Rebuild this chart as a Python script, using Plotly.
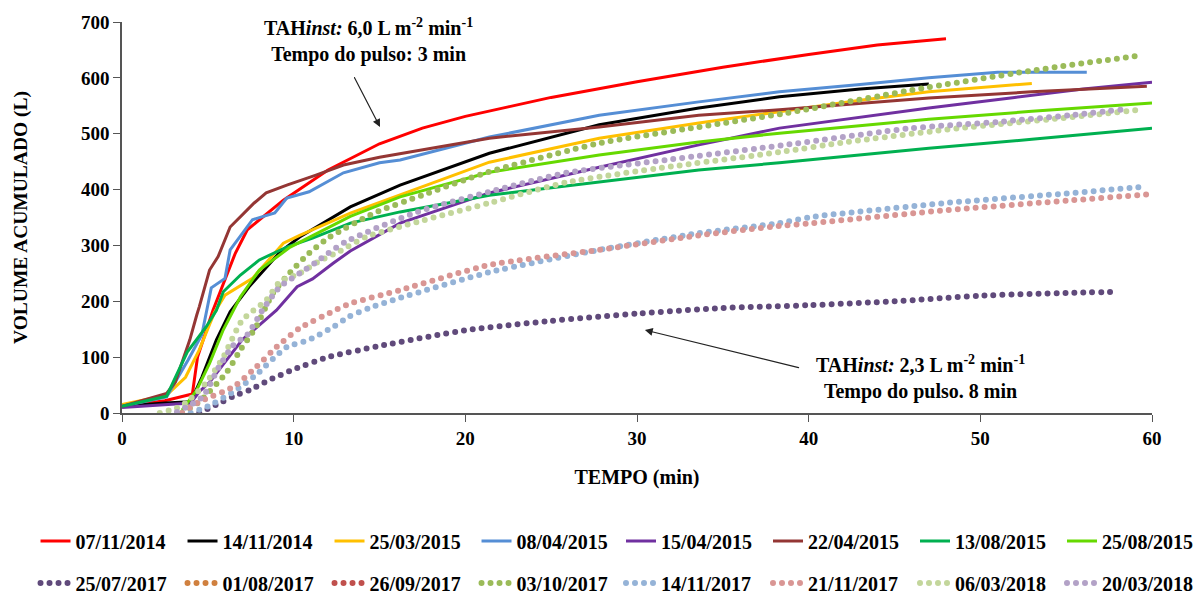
import plotly.graph_objects as go

# ---------------- data ----------------
names_solid = ["07/11/2014", "14/11/2014", "25/03/2015", "08/04/2015",
               "15/04/2015", "22/04/2015", "13/08/2015", "25/08/2015"]
colors_solid = ["#FF0000", "#000000", "#FFC000", "#558ED5",
                "#7030A0", "#943634", "#00B050", "#66D900"]

t_0711_2014 = [0, 2.5, 4.1, 4.4, 5.3, 6.6, 7.3, 9.4, 12, 15, 17.5, 20, 22.5, 25, 30, 35, 40, 44, 48]
v_0711_2014 = [12, 22, 34, 100, 184, 286, 328, 381, 435, 482, 510, 531, 548, 565, 593, 619, 642, 659, 670]

t_1411_2014 = [0, 2.5, 4, 4.65, 5.5, 6.3, 7.4, 9.2, 10.35, 13.3, 16.2, 21.4, 27.8, 33.6, 38.3, 43, 47]
v_1411_2014 = [12, 18, 20, 64, 131, 181, 226, 288, 315, 369, 408, 465, 516, 546, 566, 580, 589]

t_2503_2015 = [0, 2.6, 3.7, 4.5, 5.4, 6, 7.6, 9.4, 10.35, 13.3, 21.4, 27.8, 33.6, 38.3, 43, 47, 53]
v_2503_2015 = [15, 32, 64, 113, 181, 211, 241, 304, 318, 358, 449, 492, 519, 539, 560, 575, 590]

t_0804_2015 = [0, 2.6, 3.85, 4.65, 5.2, 6, 6.3, 7.6, 8.9, 9.6, 10.9, 12.9, 15, 16.2, 21.4, 27.8, 33.6, 38.3, 43, 47, 51, 56.2]
v_0804_2015 = [12, 29, 95, 140, 224, 241, 292, 346, 358, 385, 396, 430, 448, 453, 494, 533, 557, 575, 588, 600, 610, 610]

t_1504_2015 = [0, 2.5, 4, 4.5, 5.1, 6.1, 7.0, 7.8, 9.0, 10.2, 11.1, 12.3, 13.3, 16.2, 21.4, 27.8, 33.6, 38.3, 43, 47, 52, 56, 60]
v_1504_2015 = [10, 15, 18, 38, 55, 95, 131, 152, 184, 226, 240, 268, 290, 340, 394, 440, 480, 510, 530, 546, 565, 580, 592]

t_2204_2015 = [0, 2.6, 3.1, 3.95, 4.35, 4.5, 5.1, 5.6, 6.3, 7.0, 7.7, 8.4, 9.6, 11.3, 12.9, 15, 21.4, 27.8, 33.6, 38.3, 43, 47, 53, 59.7]
v_2204_2015 = [12, 35, 55, 131, 175, 190, 256, 280, 333, 354, 376, 394, 408, 426, 444, 458, 492, 512, 533, 543, 555, 564, 575, 585]

t_1308_2015 = [0, 2.6, 3.8, 4.9, 5.5, 5.9, 6.9, 8.0, 9.6, 11.1, 13.3, 16.2, 21.4, 27.8, 33.6, 38.3, 43, 47, 53, 60]
v_1308_2015 = [12, 30, 109, 154, 184, 217, 247, 274, 297, 313, 340, 360, 390, 413, 435, 448, 462, 474, 490, 510]

t_2508_2015 = [3.5, 4.35, 5.1, 5.9, 6.9, 8.0, 9.8, 11.1, 13.3, 16.2, 21.4, 27.8, 33.6, 38.3, 43, 47, 53, 60]
v_2508_2015 = [5, 41, 89, 149, 208, 256, 297, 317, 352, 387, 431, 462, 485, 501, 515, 526, 540, 555]

names_dot = ["25/07/2017", "01/08/2017", "26/09/2017", "03/10/2017",
             "14/11/2017", "21/11/2017", "06/03/2018", "20/03/2018"]
colors_dot = ["#604A7B", "#D0803F", "#C0504D", "#9BBB59",
              "#95B3D7", "#D99694", "#C3D69B", "#B3A2C7"]

t_2507_2017 = [4.5, 5.5, 6.5, 7.5, 8.5, 10, 12, 15, 20, 25, 30, 35, 40, 45, 50, 55, 58]
v_2507_2017 = [0, 15, 30, 42, 58, 78, 100, 120, 148, 165, 178, 188, 193, 200, 210, 215, 217]

t_0108_2017 = []
v_0108_2017 = []

t_2609_2017 = []
v_2609_2017 = []

t_0310_2017 = [3.5, 4.5, 6.1, 6.9, 7.8, 8.8, 9.8, 10.9, 12.1, 14.7, 17.5, 21.2, 27.8, 33.6, 38.7, 46, 52.8, 59.5]
v_0310_2017 = [0, 20, 73, 113, 154, 215, 252, 286, 315, 358, 390, 430, 483, 512, 537, 578, 612, 641]

t_1411_2017 = [4, 5, 6.5, 7.8, 9.6, 10.9, 12.3, 13.2, 14.4, 16.2, 21.4, 27.8, 33.6, 38.3, 40.2, 48, 55, 59.5]
v_1411_2017 = [0, 12, 38, 68, 118, 131, 154, 172, 188, 206, 252, 292, 322, 340, 351, 376, 393, 405]

t_2111_2017 = [3.5, 4.5, 6.5, 7.8, 9.0, 10.35, 12.3, 13.2, 16.2, 21.4, 27.8, 33.6, 38.3, 40.2, 48, 55, 60]
v_2111_2017 = [0, 20, 47, 82, 118, 152, 182, 195, 220, 265, 292, 318, 335, 340, 363, 380, 392]

t_0603_2018 = [2.2, 3.2, 3.8, 4.9, 5.9, 7.0, 8.4, 9.2, 10.35, 11.5, 12.7, 14.2, 17.2, 21.4, 25.9, 31.7, 38.3, 42.2, 48.8, 54.8, 59.3]
v_0603_2018 = [0, 9, 20, 54, 100, 166, 202, 235, 250, 272, 290, 315, 342, 376, 413, 440, 467, 485, 510, 528, 543]

t_2003_2018 = [3.2, 4.7, 5.6, 6.5, 7.3, 8.2, 9.2, 10.35, 11.3, 13, 17.2, 21.4, 25.9, 31.7, 38.9, 46, 51, 55.2, 58.2]
v_2003_2018 = [2, 29, 80, 122, 140, 185, 226, 250, 270, 306, 360, 396, 430, 453, 481, 510, 521, 533, 543]

solid_t = [t_0711_2014, t_1411_2014, t_2503_2015, t_0804_2015, t_1504_2015, t_2204_2015, t_1308_2015, t_2508_2015]
solid_v = [v_0711_2014, v_1411_2014, v_2503_2015, v_0804_2015, v_1504_2015, v_2204_2015, v_1308_2015, v_2508_2015]
dot_t = [t_2507_2017, t_0108_2017, t_2609_2017, t_0310_2017, t_1411_2017, t_2111_2017, t_0603_2018, t_2003_2018]
dot_v = [v_2507_2017, v_0108_2017, v_2609_2017, v_0310_2017, v_1411_2017, v_2111_2017, v_0603_2018, v_2003_2018]

x_ticks = [0, 10, 20, 30, 40, 50, 60]
y_ticks = [0, 100, 200, 300, 400, 500, 600, 700]

FONT = "Liberation Serif"

# legend slots: row 1 -> legend (left half) / legend2 (right half); row 2 -> legend3 / legend4
solid_legends = ["legend"] * 4 + ["legend2"] * 4
dot_legends = ["legend3"] * 4 + ["legend4"] * 4

# ---------------- figure ----------------
fig = go.Figure()

for name, col, tt, vv, lg in zip(names_solid, colors_solid, solid_t, solid_v, solid_legends):
    fig.add_trace(go.Scatter(x=tt, y=vv, mode="lines", name=name,
                             line=dict(color=col, width=3), legend=lg))

for name, col, tt, vv, lg in zip(names_dot, colors_dot, dot_t, dot_v, dot_legends):
    fig.add_trace(go.Scatter(x=tt if tt else [None], y=vv if vv else [None],
                             mode="lines", name=name,
                             line=dict(color=col, width=6, dash="0px,9px", shape="spline", smoothing=0.6),
                             legend=lg))

axis_font = dict(family=FONT, size=19, color="black", weight="bold")

fig.update_xaxes(range=[0, 60], tickvals=x_ticks, ticks="outside", ticklen=7, tickwidth=1.3,
                 tickcolor="#555", showline=True, linecolor="#555", linewidth=1.5,
                 showgrid=False, zeroline=False, tickfont=axis_font,
                 title=dict(text="TEMPO (min)", font=dict(family=FONT, size=20, color="black", weight="bold"),
                            standoff=22))
fig.update_yaxes(range=[0, 700], tickvals=y_ticks, ticks="outside", ticklen=7, tickwidth=1.3,
                 tickcolor="#555", showline=True, linecolor="#555", linewidth=1.5,
                 showgrid=False, zeroline=False, tickfont=axis_font,
                 title=dict(text="VOLUME ACUMULADO (L)", font=dict(family=FONT, size=19.5, color="black", weight="bold"),
                            standoff=48))

legend_common = dict(orientation="h", font=dict(family=FONT, size=20, color="black", weight="bold"),
                     entrywidth=102, entrywidthmode="pixels", xanchor="left", yanchor="middle",
                     xref="container", yref="container",
                     bgcolor="rgba(0,0,0,0)", itemwidth=30, traceorder="normal")

x_left = 0.0296
x_right = 0.5175
y_row1 = 1 - 541 / 597
y_row2 = 1 - 583 / 597

fig.update_layout(
    width=1200, height=597,
    margin=dict(l=122, r=48, t=22, b=184, autoexpand=False),
    plot_bgcolor="white", paper_bgcolor="white",
    legend=dict(x=x_left, y=y_row1, **legend_common),
    legend2=dict(x=x_right, y=y_row1, **legend_common),
    legend3=dict(x=x_left, y=y_row2, **legend_common),
    legend4=dict(x=x_right, y=y_row2, **legend_common),
)

# annotations
fig.add_annotation(x=15.03, y=512, ax=13.5, ay=603, xref="x", yref="y", axref="x", ayref="y",
                   text="", showarrow=True, arrowhead=2, arrowsize=1.3, arrowwidth=1.2, arrowcolor="#222")
fig.add_annotation(x=30.46, y=148.6, ax=39.5, ay=80.6, xref="x", yref="y", axref="x", ayref="y",
                   text="", showarrow=True, arrowhead=2, arrowsize=1.3, arrowwidth=1.2, arrowcolor="#222")
fig.add_annotation(x=14.33, y=666, xref="x", yref="y", showarrow=False,
                   text="<b>TAH<i>inst:</i> 6,0 L m<sup>-2</sup> min<sup>-1</sup></b><br><b>Tempo do pulso: 3 min</b>",
                   font=dict(family=FONT, size=20, color="black"), align="center")
fig.add_annotation(x=46.5, y=62.7, xref="x", yref="y", showarrow=False,
                   text="<b>TAH<i>inst:</i> 2,3 L m<sup>-2</sup> min<sup>-1</sup></b><br><b>Tempo do pulso. 8 min</b>",
                   font=dict(family=FONT, size=20, color="black"), align="center")

post = """
function roundDots(){
  document.querySelectorAll('path').forEach(function(p){
    var d = p.style.strokeDasharray || p.getAttribute('stroke-dasharray');
    if(d && d.indexOf('0px') === 0){ p.style.strokeLinecap = 'round'; }
  });
}
roundDots();
var gd = document.getElementById('{plot_id}');
if(gd && gd.on){ gd.on('plotly_afterplot', roundDots); }
"""

fig.write_html("out.html", post_script=post)
